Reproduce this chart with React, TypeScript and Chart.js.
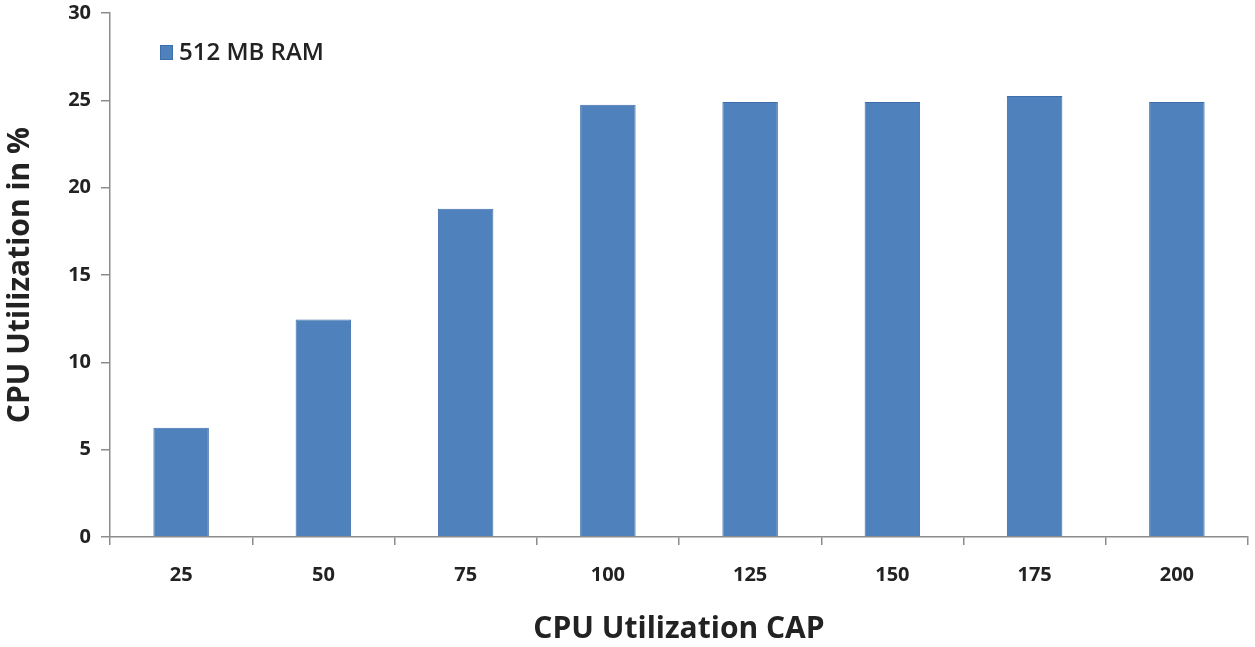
import React, { useEffect, useRef } from "react";
import { Chart, registerables } from "chart.js";

Chart.register(...registerables);

const categories = ["25", "50", "75", "100", "125", "150", "175", "200"];
const seriesLabel = "512 MB RAM";
const ramValues = [6.25, 12.45, 18.8, 24.75, 24.9, 24.9, 25.25, 24.9];
const yTicks = [0, 5, 10, 15, 20, 25, 30];
const xTitle = "CPU Utilization CAP";
const yTitle = "CPU Utilization in %";

const FONT = "'Open Sans', Lato, sans-serif";
const BAR = "#4F81BD";
const BAR_EDGE = "#3D6DAB";
const AXIS = "#8C8C8C";

const legendPlugin = {
  id: "customLegend",
  afterDraw(chart: any) {
    const ctx = chart.ctx;
    const ds = chart.data.datasets[0];
    ctx.save();
    ctx.fillStyle = BAR;
    ctx.fillRect(160, 45, 13, 15);
    ctx.strokeStyle = BAR_EDGE;
    ctx.lineWidth = 1;
    ctx.strokeRect(160.5, 45.5, 12, 14);
    ctx.fillStyle = "#222";
    ctx.font = `600 24px ${FONT}`;
    ctx.textBaseline = "middle";
    ctx.textAlign = "left";
    ctx.fillText(ds.label, 179, 53);
    ctx.restore();
  },
};

export default function App() {
  const ref = useRef<HTMLCanvasElement | null>(null);
  useEffect(() => {
    document.body.style.margin = "0";
    const chart = new Chart(ref.current!, {
      type: "bar",
      data: {
        labels: categories,
        datasets: [
          {
            label: seriesLabel,
            data: ramValues,
            backgroundColor: BAR,
            borderColor: BAR_EDGE,
            borderWidth: 1,
            barPercentage: 0.39,
            categoryPercentage: 1,
          },
        ],
      },
      options: {
        animation: false,
        responsive: false,
        maintainAspectRatio: false,
        layout: { padding: { left: 0, right: 7, top: 13, bottom: 0 } },
        plugins: {
          legend: { display: false },
          tooltip: { enabled: false },
        },
        scales: {
          x: {
            grid: {
              display: true,
              drawOnChartArea: false,
              drawTicks: true,
              tickLength: 8,
              color: AXIS,
              lineWidth: 1.5,
            },
            border: { display: true, color: AXIS, width: 1.5 },
            ticks: {
              color: "#222",
              font: { family: FONT, size: 20, weight: "bold" },
              padding: 18,
            },
            title: {
              display: true,
              text: xTitle,
              color: "#222",
              font: { family: FONT, size: 30, weight: "bold" },
              padding: { top: 10, bottom: 0 },
            },
            afterFit(scale: any) {
              scale.height = 110;
            },
          },
          y: {
            min: 0,
            max: 30,
            afterBuildTicks(scale: any) {
              scale.ticks = yTicks.map((v) => ({ value: v }));
            },
            grid: {
              display: true,
              drawOnChartArea: false,
              drawTicks: true,
              tickLength: 9,
              color: AXIS,
              lineWidth: 1.5,
            },
            border: { display: true, color: AXIS, width: 1.5 },
            ticks: {
              color: "#222",
              font: { family: FONT, size: 20, weight: "bold", lineHeight: 0.2 },
              padding: 10,
            },
            title: {
              display: true,
              text: yTitle,
              color: "#222",
              font: { family: FONT, size: 30, weight: "bold" },
              padding: { top: 2, bottom: 14 },
            },
            afterFit(scale: any) {
              scale.width = 110;
            },
          },
        },
      },
      plugins: [legendPlugin],
    });
    return () => chart.destroy();
  }, []);
  return (
    <div style={{ position: "fixed", left: 0, top: 0, width: 1255, height: 647, background: "#fff" }}>
      <canvas ref={ref} width={1255} height={647} style={{ width: 1255, height: 647 }} />
    </div>
  );
}
